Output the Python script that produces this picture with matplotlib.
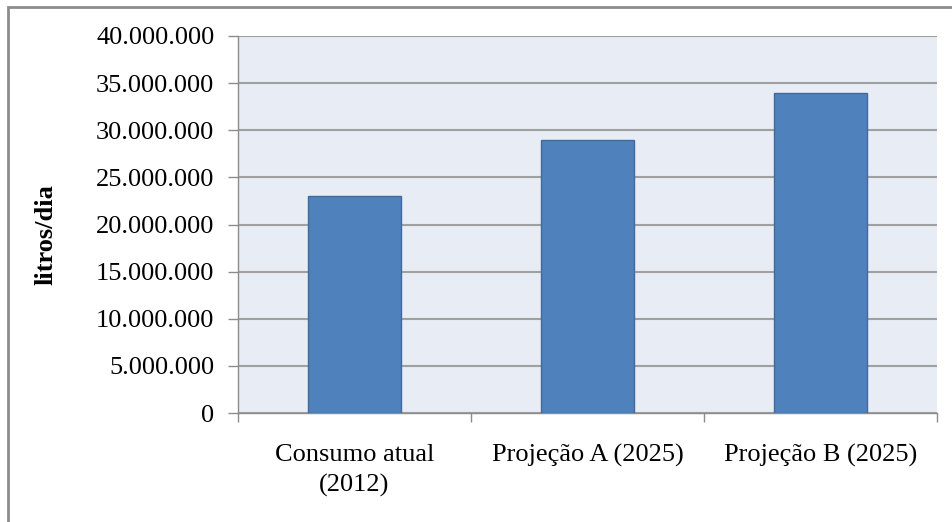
import matplotlib.pyplot as plt
from matplotlib.patches import Rectangle
from matplotlib.ticker import FuncFormatter

# Dados do gráfico
categorias = ['Consumo atual\n(2012)', 'Projeção A (2025)', 'Projeção B (2025)']
consumo = [23000000, 29000000, 33900000]
ticks_y = [0, 5000000, 10000000, 15000000, 20000000, 25000000, 30000000, 35000000, 40000000]

plt.rcParams['font.family'] = ['Liberation Serif', 'DejaVu Serif']

fig = plt.figure(figsize=(9.53, 5.22), dpi=100)
ax = fig.add_axes([238 / 953, 1 - 413 / 522, 699 / 953, 377 / 522])

# Moldura externa (parcialmente cortada)
fig.patches.append(Rectangle((8 / 953, -0.1), 1.2, (522 - 7) / 522 + 0.1,
                             transform=fig.transFigure, fill=False,
                             edgecolor='#8c8c8c', linewidth=2))

ax.set_facecolor('#e8ecf4')
x = range(len(categorias))
ax.bar(x, consumo, width=0.4, color='#4f81bd', edgecolor='#41699b', linewidth=1, zorder=3)

ax.set_xlim(-0.5, 2.5)
ax.set_ylim(0, 40000000)
ax.set_yticks(ticks_y)
ax.yaxis.set_major_formatter(FuncFormatter(lambda v, p: f'{int(v):,}'.replace(',', '.')))
ax.grid(axis='y', color='#a0a0a0', linewidth=1.5, zorder=1)

ax.set_xticks(list(x))
ax.set_xticklabels(categorias, fontsize=19, linespacing=1.45)
ax.set_xticks([-0.5, 0.5, 1.5, 2.5], minor=True)
ax.tick_params(axis='x', which='major', length=0, pad=22)
ax.tick_params(axis='x', which='minor', length=6.5, width=1, color='#8c8c8c', direction='out')
ax.tick_params(axis='y', labelsize=19, length=7, width=1, color='#8c8c8c', pad=10)

for s in ['top', 'right']:
    ax.spines[s].set_visible(False)
for s in ['left', 'bottom']:
    ax.spines[s].set_color('#8c8c8c')
    ax.spines[s].set_linewidth(1)

fig.text(46 / 953, 1 - 235 / 522, 'litros/dia', rotation=90, fontsize=19,
         fontweight='bold', ha='center', va='center')

fig.savefig('out.png', dpi=100)
